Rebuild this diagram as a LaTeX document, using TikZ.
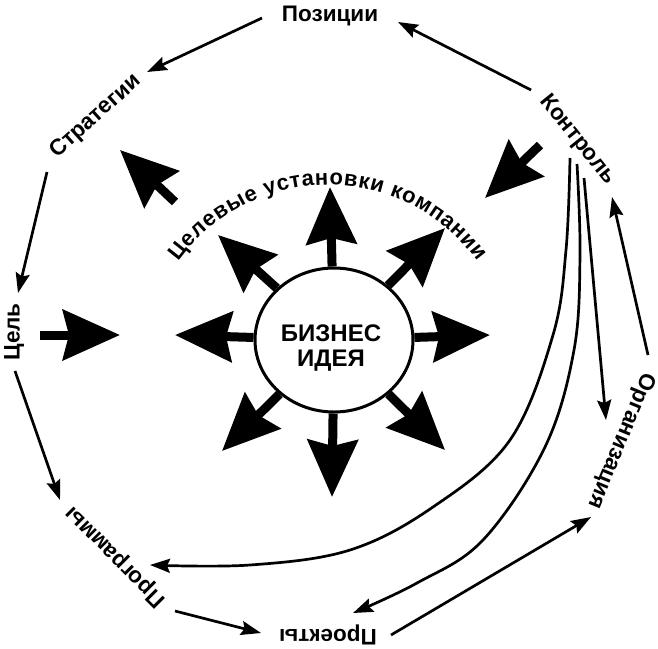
\documentclass[tikz,border=0pt]{standalone}
\usepackage{fontspec}
\setmainfont{Liberation Sans}
\usetikzlibrary{arrows.meta,shapes.geometric,decorations.text}
\begin{document}
\begin{tikzpicture}[x=1pt,y=-1pt,
  lbl/.style={inner sep=0pt, text height=0.72em, text depth=0pt, font=\fontsize{22.5}{27}\selectfont\bfseries},
  conn/.style={line width=2.7pt, -{Stealth[length=20pt,width=14pt,inset=3pt]}},
  bigarrow/.style={line width=9pt, -{Stealth[length=57pt,width=50pt,inset=6pt]}},
]
\useasboundingbox (0,0) rectangle (658,648);

% labels
\node[lbl] (poz) at (330,18) {Позиции};
\node[lbl, rotate=42] (strat) at (97,118) {Стратегии};
\node[lbl, rotate=-51] (kontr) at (576,141) {Контроль};
\node[lbl, rotate=90] (cel) at (16,332) {Цель};
\node[lbl, rotate=135] (prog) at (117,555) {Программы};
\node[lbl, rotate=180] (proj) at (328,633) {Проекты};
\node[lbl, rotate=-112.5] (org) at (619,440) {Организация};

% centre
\node[draw, line width=3pt, ellipse, minimum width=158pt, minimum height=144pt, inner sep=0pt, fill=white] (idea) at (334,340) {};
\node[align=center, inner sep=0pt, font=\fontsize{24}{25}\selectfont\bfseries] (ideatxt) at (331,348) {БИЗНЕС\\ИДЕЯ};

% radial arrow tips
\coordinate (rN) at (330,187);
\coordinate (rNE) at (445,228);
\coordinate (rE) at (490,335);
\coordinate (rSE) at (445,450);
\coordinate (rS) at (332,497);
\coordinate (rSW) at (222,451);
\coordinate (rW) at (175,335);
\coordinate (rNW) at (218,235);
\foreach \t in {rN,rNE,rE,rSE,rS,rSW,rW,rNW}
  \draw[bigarrow] (idea) -- (\t);

% free big arrows
\coordinate (a1s) at (175,202); \coordinate (a1t) at (120,150);
\coordinate (a2s) at (40,335);  \coordinate (a2t) at (120,335);
\coordinate (a3s) at (540,145); \coordinate (a3t) at (485,198);
\draw[bigarrow] (a1s) -- (a1t);
\draw[bigarrow] (a2s) -- (a2t);
\draw[bigarrow] (a3s) -- (a3t);

% arc text
\path[decorate, decoration={text along path, text align={fit to path},
  text={|\fontsize{22}{26}\selectfont\bfseries|Целевые установки компании}}]
  (178.3,261.3) arc[start angle=-144, end angle=-36, radius=185];

% connector end points
\coordinate (kontr-w) at (531,90);   \coordinate (poz-e) at (398,22);
\coordinate (poz-w) at (262,18);     \coordinate (strat-ne) at (147,72);
\coordinate (strat-s) at (47,172);   \coordinate (cel-n) at (18,293);
\coordinate (cel-s) at (15,371);     \coordinate (prog-n) at (60,500);
\coordinate (prog-e) at (175,611);   \coordinate (proj-w) at (261,633);
\coordinate (proj-e) at (391,635);   \coordinate (org-s) at (591,517);
\coordinate (org-n) at (648,355);    \coordinate (kontr-se) at (612,197);
\coordinate (kontr-s1) at (570,158); \coordinate (kontr-s2) at (577,164);
\coordinate (kontr-s3) at (584,178);
\coordinate (org-w) at (606,420);    \coordinate (proj-ne) at (353,613);
\coordinate (prog-se) at (150,565);

\draw[conn] (kontr-w) -- (poz-e);
\draw[conn] (poz-w) -- (strat-ne);
\draw[conn] (strat-s) -- (cel-n);
\draw[conn] (cel-s) -- (prog-n);
\draw[conn] (prog-e) -- (proj-w);
\draw[conn] (proj-e) -- (org-s);
\draw[conn] (org-n) -- (kontr-se);
\draw[conn] (kontr-s3) -- (org-w);
\draw[conn] plot[smooth, tension=0.6] coordinates {(kontr-s2) (580,255) (574,350) (545,447) (483,540) (417,583) (proj-ne)};
\draw[conn] plot[smooth, tension=0.6] coordinates {(kontr-s1) (566,250) (553,335) (510,440) (433,507) (350,550) (250,565) (prog-se)};
\end{tikzpicture}
\end{document}
